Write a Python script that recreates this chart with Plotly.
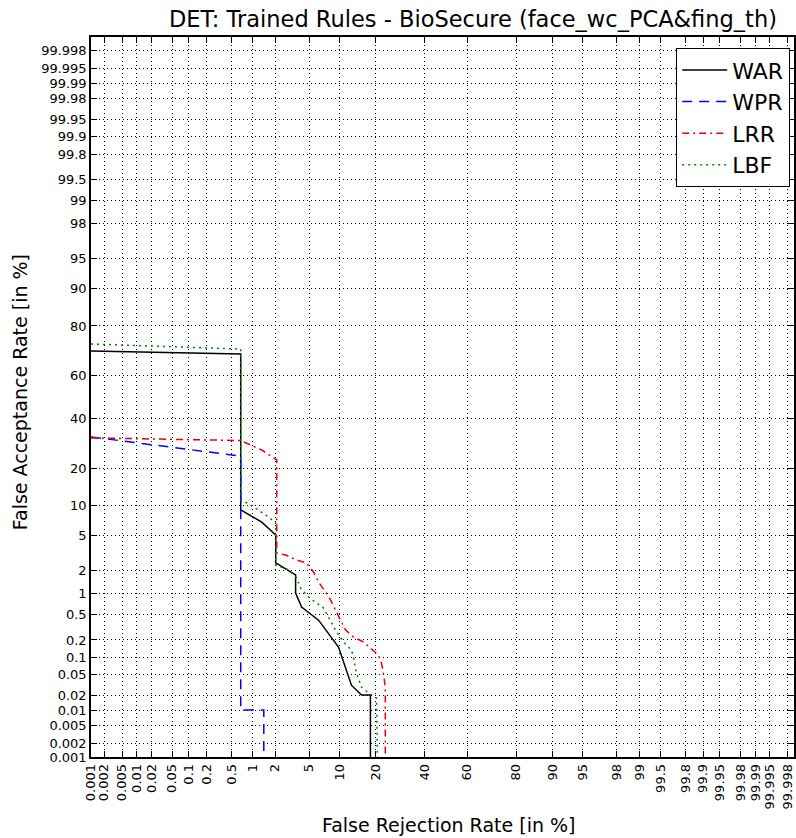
import plotly.graph_objects as go
from statistics import NormalDist

# ---- data (percent) ----
tick_pct = [0.001, 0.002, 0.005, 0.01, 0.02, 0.05, 0.1, 0.2, 0.5, 1, 2, 5, 10, 20,
            40, 60, 80, 90, 95, 98, 99, 99.5, 99.8, 99.9, 99.95, 99.98, 99.99, 99.995, 99.998]
tick_labels = ["0.001", "0.002", "0.005", "0.01", "0.02", "0.05", "0.1", "0.2", "0.5", "1", "2",
               "5", "10", "20", "40", "60", "80", "90", "95", "98", "99", "99.5", "99.8",
               "99.9", "99.95", "99.98", "99.99", "99.995", "99.998"]

war_frr = [0.001, 0.683, 0.683, 1.345, 2.04, 2.04, 3.54, 3.54, 4.14, 6.29, 9.83, 12.8, 15.5, 18.2, 18.2]
war_far = [70.7, 69.5, 9.05, 6.9, 5.1, 2.47, 1.75, 1.01, 0.64, 0.41, 0.153, 0.032, 0.0208, 0.0208, 0.001]

wpr_frr = [0.001, 0.683, 0.683, 1.43, 1.43]
wpr_far = [31.8, 24.2, 0.0104, 0.0104, 0.001]

lrr_frr = [0.001, 0.683, 1.345, 2.10, 2.10, 2.71, 3.63, 4.69, 5.58, 6.29, 7.40, 8.27, 9.22, 10.25,
           11.35, 13.3, 16.1, 18.2, 20.8, 21.9, 22.6, 23.3, 23.3]
lrr_far = [31.4, 30.3, 26.5, 22.8, 3.23, 3.06, 2.67, 2.46, 1.91, 1.42, 1.04, 0.81, 0.58, 0.41,
           0.29, 0.223, 0.185, 0.147, 0.112, 0.081, 0.054, 0.0295, 0.001]

lbf_frr = [0.001, 0.683, 0.683, 0.89, 1.52, 2.04, 2.04, 2.94, 3.63, 4.03, 4.94, 5.86, 7.06, 7.9,
           9.22, 10.9, 12.8, 13.3, 14.1, 15.5, 17.6, 20.2, 20.5]
lbf_far = [73.5, 71.5, 11.1, 10.3, 8.1, 6.8, 2.33, 2.02, 1.6, 1.18, 0.89, 0.757, 0.62, 0.457,
           0.288, 0.185, 0.136, 0.103, 0.054, 0.0295, 0.0227, 0.0181, 0.001]

nd = NormalDist()


def probit(vals):
    return [nd.inv_cdf(v / 100.0) for v in vals]


FONT = "DejaVu Sans"
fig = go.Figure()

series = [
    ("WAR", war_frr, war_far, "black", "solid"),
    ("WPR", wpr_frr, wpr_far, "#0000ff", "10px,7px"),
    ("LRR", lrr_frr, lrr_far, "#ee0000", "7px,4px,2px,4px"),
    ("LBF", lbf_frr, lbf_far, "#008000", "2px,4px"),
]
for name, fx, fy, col, dash in series:
    fig.add_trace(go.Scatter(
        x=probit(fx), y=probit(fy), mode="lines", name=name,
        line=dict(color=col, width=1.5, dash=dash),
        customdata=fx, hovertemplate="FRR %{customdata}%<extra>" + name + "</extra>",
    ))

tv = probit(tick_pct)
lo = nd.inv_cdf(0.00001)

axis_common = dict(
    tickvals=tv, ticktext=tick_labels, ticks="inside", ticklen=6, tickwidth=1,
    tickcolor="black", showline=True, linecolor="black", linewidth=1.5, mirror="allticks",
    showgrid=True, gridcolor="black", gridwidth=0.8, griddash="1px,3px", zeroline=False,
    tickfont=dict(family=FONT, size=13, color="black"),
)

fig.update_xaxes(range=[lo, lo + 705 / 83.47], tickangle=-90, **axis_common)
fig.update_yaxes(range=[lo, -lo], **axis_common)

fig.update_layout(
    width=796, height=838,
    margin=dict(l=91, r=0, t=37, b=81),
    paper_bgcolor="white", plot_bgcolor="white",
    font=dict(family=FONT, color="black"),
    title=dict(text="DET: Trained Rules - BioSecure (face_wc_PCA&fing_th)",
               x=473 / 796, xanchor="center", y=1 - 19 / 838, yanchor="middle",
               font=dict(family=FONT, size=22.5, color="black")),
    showlegend=True,
    legend=dict(x=(792 - 91) / 705, xanchor="right", y=(757 - 48) / 720, yanchor="top",
                bgcolor="white", bordercolor="black", borderwidth=1.2, itemwidth=45,
                font=dict(family=FONT, size=22, color="black"), tracegroupgap=0),
    annotations=[
        dict(text="False Rejection Rate [in %]", xref="paper", yref="paper",
             x=(450 - 91) / 705, y=-(825 - 757) / 720, xanchor="center", yanchor="middle",
             showarrow=False, font=dict(family=FONT, size=19, color="black")),
        dict(text="False Acceptance Rate [in %]", xref="paper", yref="paper",
             x=-(91 - 20) / 705, y=(757 - 392) / 720, xanchor="center", yanchor="middle",
             textangle=-90, showarrow=False, font=dict(family=FONT, size=19, color="black")),
    ],
)

fig.write_html("out.html")
